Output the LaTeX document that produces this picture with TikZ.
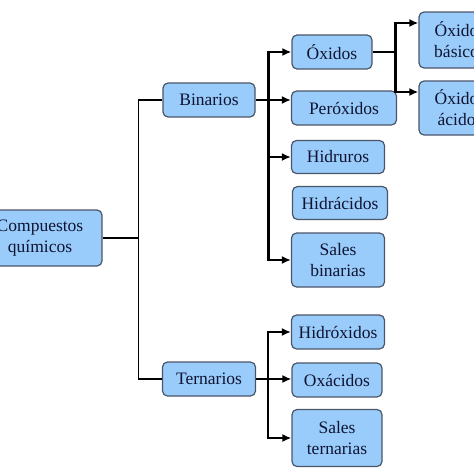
\documentclass[tikz,border=0pt]{standalone}
\usepackage{fontspec}
\setmainfont{Liberation Serif}
\usepackage{tikz}
\usetikzlibrary{arrows.meta}
\definecolor{celeste}{RGB}{153,204,250}
\definecolor{borde}{RGB}{75,85,105}
\definecolor{tinta}{RGB}{15,20,50}

\begin{document}
\begin{tikzpicture}[x=1pt,y=-1pt,>={Latex[length=9pt,width=8pt]},
  caja/.style={draw=borde,fill=celeste,rounded corners=5pt,line width=1.2pt,
    text=tinta,align=center,inner sep=0pt,
    font=\fontsize{17.5}{21}\selectfont},
  rama/.style={line width=1.3pt},
  flecha/.style={->,line width=2.3pt}]
\useasboundingbox (0,0) rectangle (474,474);
\node[caja,minimum width=124,minimum height=56] (comp) at (40,238){Compuestos\\químicos};
\node[caja,minimum width=92,minimum height=34] (bin) at (209,100){Binarios};
\node[caja,minimum width=93,minimum height=34] (ter) at (209,379){Ternarios};
\node[caja,minimum width=80,minimum height=34] (oxi) at (332,52){Óxidos};
\node[caja,minimum width=105,minimum height=34] (per) at (344,108){Peróxidos};
\node[caja,minimum width=93,minimum height=33] (hidru) at (338,157){Hidruros};
\node[caja,minimum width=95,minimum height=33] (hidra) at (340,203){Hidrácidos};
\node[caja,minimum width=93,minimum height=54] (salb) at (338,260){Sales\\binarias};
\node[caja,minimum width=82,minimum height=56] (bas) at (460,40){Óxidos\\básicos};
\node[caja,minimum width=82,minimum height=54] (aci) at (460,108){Óxidos\\ácidos};
\node[caja,minimum width=93,minimum height=34] (hidrox) at (338,332){Hidróxidos};
\node[caja,minimum width=90,minimum height=34] (oxa) at (337,380){Oxácidos};
\node[caja,minimum width=90,minimum height=57] (salt) at (337,438){Sales\\ternarias};
\draw[rama] (comp.east) -- ++(36,0) |- (bin.west);
\draw[rama] (comp.east) -- ++(36,0) |- (ter.west);
\draw[flecha] (bin.east) -- ++(13,0) |- (oxi.west);
\draw[flecha] (bin.east) -- (per.west |- bin.east);
\draw[flecha] (bin.east) -- ++(13,0) |- (hidru.west);
\draw[flecha] (bin.east) -- ++(13,0) |- (salb.west);
\draw[flecha] (oxi.east) -- ++(23,0) |- ([yshift=17pt]bas.west);
\draw[flecha] (oxi.east) -- ++(23,0) |- ([yshift=16pt]aci.west);
\draw[flecha] (ter.east) -- ++(12,0) |- (hidrox.west);
\draw[flecha] (ter.east) -- (oxa.west |- ter.east);
\draw[flecha] (ter.east) -- ++(12,0) |- (salt.west);
\end{tikzpicture}
\end{document}
